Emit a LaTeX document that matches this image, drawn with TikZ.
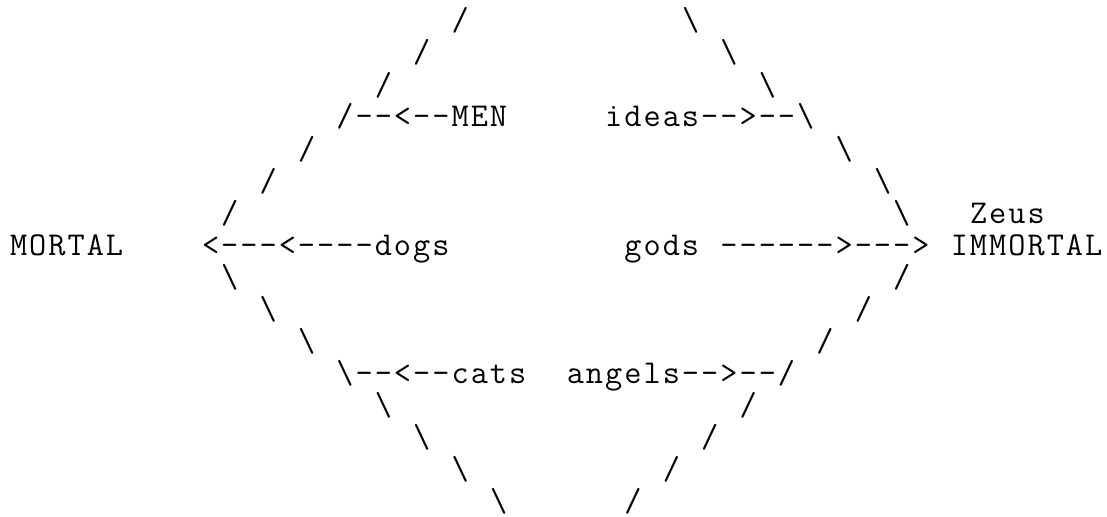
\documentclass[tikz,border=0pt]{standalone}
\newlength\asciicw
\setlength\asciicw{14.4pt}
\def\asciiend{\asciiend}
\def\asciimono#1{\asciiloop#1\asciiend}
\def\asciiloop#1{\ifx#1\asciiend\else\makebox[\asciicw][c]{#1}\expandafter\asciiloop\fi}
\tikzset{
  asc/.style={inner sep=0pt, outer sep=0pt, anchor=base west,
    font=\ttfamily\fontsize{25pt}{25pt}\selectfont}
}
\begin{document}
\begin{tikzpicture}[x=0.75pt, y=-0.75pt]
\useasboundingbox (0,0) rectangle (1107,517);
% row 1
\node[asc] (l1) at ({9+23*19.2},{32*1-1}) {\asciimono{/}};
\node[asc] (r1) at ({9+35*19.2},{32*1-1}) {\asciimono{\textbackslash}};
% row 2
\node[asc] (l2) at ({9+21*19.2},{32*2-1}) {\asciimono{/}};
\node[asc] (r2) at ({9+37*19.2},{32*2-1}) {\asciimono{\textbackslash}};
% row 3
\node[asc] (l3) at ({9+19*19.2},{32*3-1}) {\asciimono{/}};
\node[asc] (r3) at ({9+39*19.2},{32*3-1}) {\asciimono{\textbackslash}};
% row 4
\node[asc] (men) at ({9+17*19.2},{32*4-1}) {\asciimono{/--<--MEN}};
\node[asc] (ideas) at ({9+31*19.2},{32*4-1}) {\asciimono{ideas-->--\textbackslash}};
% row 5
\node[asc] (l5) at ({9+15*19.2},{32*5-1}) {\asciimono{/}};
\node[asc] (r5) at ({9+43*19.2},{32*5-1}) {\asciimono{\textbackslash}};
% row 6
\node[asc] (l6) at ({9+13*19.2},{32*6-1}) {\asciimono{/}};
\node[asc] (r6) at ({9+45*19.2},{32*6-1}) {\asciimono{\textbackslash}};
% row 7
\node[asc] (l7) at ({9+11*19.2},{32*7-1}) {\asciimono{/}};
\node[asc] (r7) at ({9+46*19.2},{32*7-1}) {\asciimono{\textbackslash}};
\node[asc] (zeus) at ({9+50*19.2},{32*7-1}) {\asciimono{Zeus}};
% row 8
\node[asc] (mortal) at ({9+0*19.2},{32*8-1}) {\asciimono{MORTAL}};
\node[asc] (dogs) at ({9+10*19.2},{32*8-1}) {\asciimono{<---<----dogs}};
\node[asc] (gods) at ({9+32*19.2},{32*8-1}) {\asciimono{gods}};
\node[asc] (godsarrow) at ({9+37*19.2},{32*8-1}) {\asciimono{------>--->}};
\node[asc] (immortal) at ({9+49*19.2},{32*8-1}) {\asciimono{IMMORTAL}};
% row 9
\node[asc] (l9) at ({9+11*19.2},{32*9-1}) {\asciimono{\textbackslash}};
\node[asc] (r9) at ({9+46*19.2},{32*9-1}) {\asciimono{/}};
% row 10
\node[asc] (l10) at ({9+13*19.2},{32*10-1}) {\asciimono{\textbackslash}};
\node[asc] (r10) at ({9+44*19.2},{32*10-1}) {\asciimono{/}};
% row 11
\node[asc] (l11) at ({9+15*19.2},{32*11-1}) {\asciimono{\textbackslash}};
\node[asc] (r11) at ({9+42*19.2},{32*11-1}) {\asciimono{/}};
% row 12
\node[asc] (cats) at ({9+17*19.2},{32*12-1}) {\asciimono{\textbackslash--<--cats}};
\node[asc] (angels) at ({9+29*19.2},{32*12-1}) {\asciimono{angels-->--/}};
% row 13
\node[asc] (l13) at ({9+19*19.2},{32*13-1}) {\asciimono{\textbackslash}};
\node[asc] (r13) at ({9+38*19.2},{32*13-1}) {\asciimono{/}};
% row 14
\node[asc] (l14) at ({9+21*19.2},{32*14-1}) {\asciimono{\textbackslash}};
\node[asc] (r14) at ({9+36*19.2},{32*14-1}) {\asciimono{/}};
% row 15
\node[asc] (l15) at ({9+23*19.2},{32*15-1}) {\asciimono{\textbackslash}};
\node[asc] (r15) at ({9+34*19.2},{32*15-1}) {\asciimono{/}};
% row 16
\node[asc] (l16) at ({9+25*19.2},{32*16-1}) {\asciimono{\textbackslash}};
\node[asc] (r16) at ({9+32*19.2},{32*16-1}) {\asciimono{/}};
\end{tikzpicture}
\end{document}
